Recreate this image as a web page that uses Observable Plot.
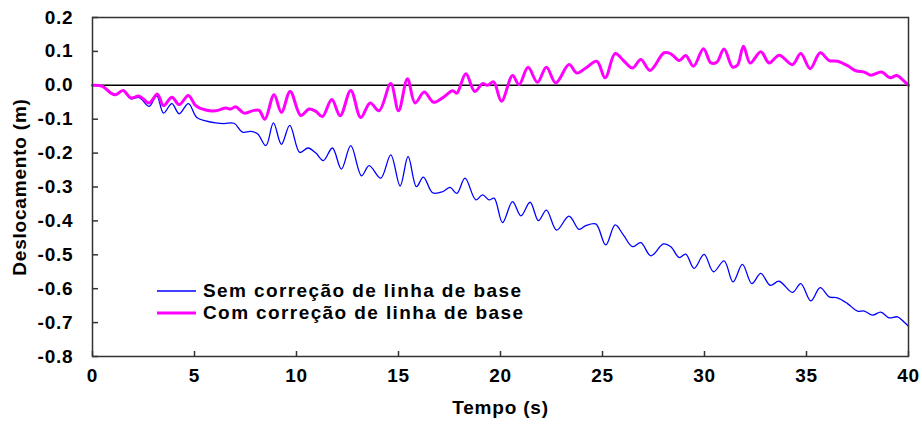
<!DOCTYPE html>
<html>
<head>
<meta charset="utf-8">
<script src="https://cdn.jsdelivr.net/npm/d3@7"></script>
<script src="https://cdn.jsdelivr.net/npm/@observablehq/plot@0.6"></script>
<style>
  html, body { margin: 0; padding: 0; background: #fff; }
  #wrap { position: relative; width: 922px; height: 424px; overflow: hidden; }
  .leg { position: absolute; left: 157px; display: flex; align-items: center;
         font-family: "Liberation Sans", Arial, sans-serif; font-weight: bold; font-size: 19px;
         letter-spacing: 1.4px; color: #000; height: 22px; line-height: 22px; white-space: nowrap; }
  .leg svg { margin-right: 7px; }
</style>
</head>
<body>
<div id="wrap"></div>
<script>
// ---- data ----
const timeSem = [0,0.5,0.9,1.14,1.5,1.88,2.29,2.78,3.15,3.48,3.89,4.25,4.7,5.11,5.55,6.04,6.45,6.94,7.35,7.76,8.09,8.5,8.87,9.26,9.67,10.16,10.57,10.95,11.32,11.76,12.2,12.66,13.19,13.56,14.13,14.62,15.08,15.47,15.88,16.22,16.67,17.16,17.53,17.86,18.26,18.79,19.12,19.44,19.69,20.1,20.59,21.0,21.45,21.86,22.25,22.75,23.36,23.85,24.18,24.67,25.16,25.62,26.03,26.47,26.88,27.37,27.99,28.35,28.76,29.08,29.49,29.98,30.44,30.96,31.4,31.86,32.32,32.76,33.22,33.66,34.31,34.72,35.21,35.67,36.11,36.52,37.01,37.5,37.83,38.24,38.64,39.05,39.46,39.78,40];
const dispSem = [0,-0.003,-0.022,-0.027,-0.017,-0.04,-0.036,-0.062,-0.031,-0.082,-0.054,-0.084,-0.054,-0.095,-0.105,-0.111,-0.113,-0.112,-0.138,-0.136,-0.143,-0.178,-0.111,-0.174,-0.118,-0.198,-0.185,-0.2,-0.222,-0.185,-0.247,-0.178,-0.267,-0.237,-0.274,-0.205,-0.297,-0.21,-0.299,-0.271,-0.317,-0.314,-0.301,-0.319,-0.274,-0.338,-0.323,-0.338,-0.333,-0.405,-0.343,-0.385,-0.345,-0.399,-0.368,-0.427,-0.386,-0.425,-0.414,-0.409,-0.471,-0.412,-0.442,-0.476,-0.464,-0.503,-0.468,-0.476,-0.508,-0.498,-0.54,-0.499,-0.55,-0.518,-0.58,-0.528,-0.585,-0.555,-0.59,-0.578,-0.611,-0.585,-0.636,-0.597,-0.624,-0.627,-0.644,-0.666,-0.666,-0.678,-0.669,-0.686,-0.683,-0.698,-0.711];

const timeCom = [0,0.49,0.9,1.14,1.5,1.88,2.29,2.78,3.18,3.48,3.89,4.25,4.7,5.06,5.55,6.04,6.53,6.78,7.02,7.43,7.92,8.17,8.45,8.9,9.26,9.69,10.21,10.62,10.95,11.27,11.73,12.14,12.66,13.15,13.61,14.05,14.62,15.0,15.44,15.81,16.26,16.72,17.16,17.65,17.86,18.3,18.74,19.12,19.36,19.66,20.05,20.59,20.91,21.35,21.81,22.25,22.71,23.36,23.74,24.18,24.72,25.13,25.62,26.06,26.47,26.88,27.33,28.02,28.35,28.76,29.08,29.46,29.95,30.31,30.6,30.96,31.37,31.62,31.91,32.24,32.76,33.17,33.66,34.31,34.72,35.18,35.67,36.11,36.52,37.01,37.42,37.83,38.15,38.68,39.1,39.43,39.78,40];
const dispCom = [0,-0.003,-0.023,-0.028,-0.015,-0.037,-0.032,-0.052,-0.026,-0.06,-0.035,-0.057,-0.03,-0.06,-0.073,-0.075,-0.067,-0.07,-0.063,-0.082,-0.074,-0.074,-0.1,-0.028,-0.08,-0.018,-0.089,-0.07,-0.077,-0.092,-0.042,-0.09,-0.015,-0.095,-0.052,-0.075,0.005,-0.075,0.019,-0.052,-0.02,-0.05,-0.037,-0.016,-0.023,0.034,-0.018,0.005,0,0.01,-0.047,0.029,0.002,0.053,0.009,0.053,0.007,0.061,0.036,0.051,0.071,0.022,0.094,0.071,0.051,0.076,0.044,0.096,0.093,0.073,0.088,0.056,0.108,0.066,0.068,0.107,0.054,0.06,0.115,0.066,0.099,0.066,0.089,0.061,0.094,0.049,0.096,0.073,0.071,0.058,0.043,0.039,0.03,0.039,0.022,0.029,0.012,0];

const xTicks = [0,5,10,15,20,25,30,35,40];
const yTicks = [0.2,0.1,0.0,-0.1,-0.2,-0.3,-0.4,-0.5,-0.6,-0.7,-0.8];
const seriesNames = ["Sem correção de linha de base", "Com correção de linha de base"];
const seriesColors = ["#0000ff", "#ff00ff"];

const sem = timeSem.map((t, i) => ({t, v: dispSem[i]}));
const com = timeCom.map((t, i) => ({t, v: dispCom[i]}));

const W = 922, H = 424, mL = 92, mR = 14, mT = 17, mB = 68;
const innerW = W - mL - mR, innerH = H - mT - mB;

const chart = Plot.plot({
  width: W, height: H,
  marginLeft: mL, marginRight: mR, marginTop: mT, marginBottom: mB,
  x: {domain: [0, 40]},
  y: {domain: [-0.8, 0.2]},
  style: {fontFamily: "'Liberation Sans', Arial, sans-serif", fontWeight: "bold", fontSize: "19px",
          color: "#000", background: "#fff", letterSpacing: "0.8px"},
  marks: [
    Plot.ruleY([0], {stroke: "#000", strokeWidth: 1.5}),
    Plot.tickY(yTicks, {y: d => d, insetRight: innerW - 6, stroke: "#333", strokeWidth: 1.5}),
    Plot.tickX(xTicks, {x: d => d, insetTop: innerH - 5, stroke: "#333", strokeWidth: 1.5}),
    Plot.line(sem, {x: "t", y: "v", stroke: seriesColors[0], strokeWidth: 1.3, curve: "catmull-rom"}),
    Plot.line(com, {x: "t", y: "v", stroke: seriesColors[1], strokeWidth: 3, curve: "catmull-rom"}),
    Plot.frame({stroke: "#333", strokeWidth: 1.5}),
    Plot.axisY({ticks: yTicks, tickSize: 0, tickPadding: 19, tickFormat: d => d.toFixed(1),
                label: "Deslocamento (m)", labelAnchor: "center", labelOffset: 80, labelArrow: "none"}),
    Plot.axisX({ticks: xTicks, tickSize: 0, tickPadding: 12, tickFormat: d => String(d),
                label: "Tempo (s)", labelAnchor: "center", labelOffset: 57, labelArrow: "none"})
  ]
});

const wrap = document.getElementById("wrap");
wrap.appendChild(chart);

// legend (HTML overlay)
const legTops = [280, 302];
seriesNames.forEach((name, i) => {
  const row = document.createElement("div");
  row.className = "leg";
  row.style.top = legTops[i] + "px";
  const sw = i === 0 ? 1.5 : 3;
  row.innerHTML = `<svg width="39" height="8"><line x1="0" x2="39" y1="4" y2="4" stroke="${seriesColors[i]}" stroke-width="${sw}"/></svg><span>${name}</span>`;
  wrap.appendChild(row);
});
</script>
</body>
</html>
